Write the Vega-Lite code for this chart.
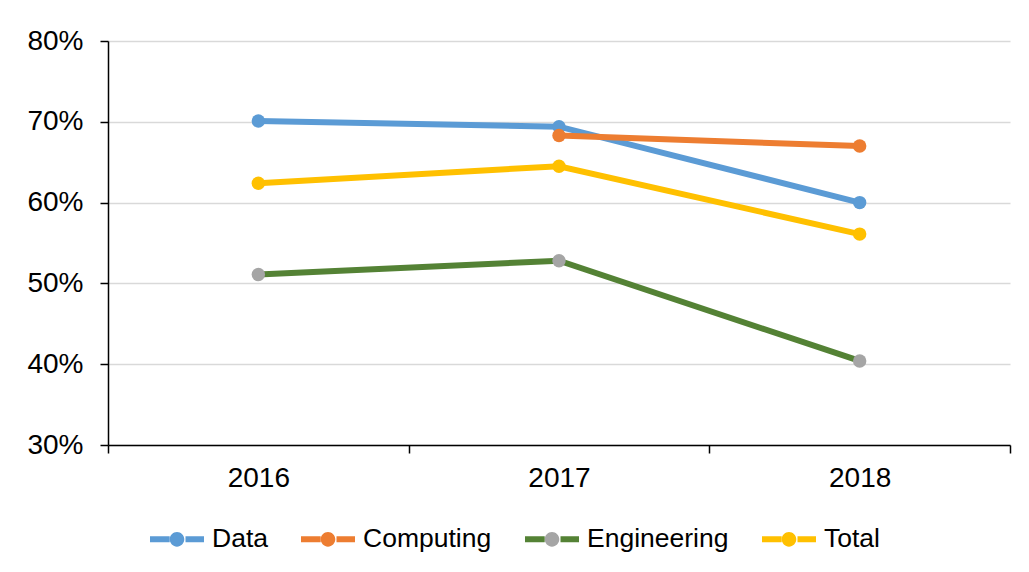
{
  "$schema": "https://vega.github.io/schema/vega-lite/v6.json",
  "width": 902,
  "height": 404,
  "autosize": {"type": "none"},
  "padding": {"left": 108, "top": 41, "right": 19, "bottom": 127},
  "background": "white",
  "config": {"view": {"stroke": null}, "font": "Liberation Sans"},
  "data": {
    "values": [
      {"year": "2016", "series": "Data", "value": 0.701},
      {"year": "2017", "series": "Data", "value": 0.694},
      {"year": "2018", "series": "Data", "value": 0.600},
      {"year": "2017", "series": "Computing", "value": 0.683},
      {"year": "2018", "series": "Computing", "value": 0.670},
      {"year": "2016", "series": "Engineering", "value": 0.511},
      {"year": "2017", "series": "Engineering", "value": 0.528},
      {"year": "2018", "series": "Engineering", "value": 0.404},
      {"year": "2016", "series": "Total", "value": 0.624},
      {"year": "2017", "series": "Total", "value": 0.645},
      {"year": "2018", "series": "Total", "value": 0.561}
    ]
  },
  "encoding": {
    "x": {
      "field": "year",
      "type": "ordinal",
      "bandPosition": 0.5,
      "scale": {"type": "band", "paddingInner": 0, "paddingOuter": 0},
      "axis": {
        "title": null,
        "labelAngle": 0,
        "tickBand": "extent",
        "tickSize": 8,
        "tickWidth": 1.5,
        "tickColor": "black",
        "domainColor": "black",
        "domainWidth": 1.5,
        "labelFontSize": 28,
        "labelColor": "black",
        "labelPadding": 11,
        "grid": false
      }
    },
    "y": {
      "field": "value",
      "type": "quantitative",
      "scale": {"domain": [0.3, 0.8], "nice": false},
      "axis": {
        "title": null,
        "values": [0.3, 0.4, 0.5, 0.6, 0.7, 0.8],
        "format": ".0%",
        "tickSize": 8,
        "tickWidth": 1.5,
        "tickColor": "black",
        "domainColor": "black",
        "domainWidth": 1.5,
        "labelFontSize": 28,
        "labelColor": "black",
        "labelPadding": 17,
        "gridColor": "#d9d9d9",
        "gridWidth": 1.3
      }
    }
  },
  "layer": [
    {
      "mark": {"type": "line", "strokeWidth": 6},
      "encoding": {
        "stroke": {
          "field": "series",
          "type": "nominal",
          "scale": {
            "domain": ["Data", "Computing", "Engineering", "Total"],
            "range": ["#5b9bd5", "#ed7d31", "#548235", "#ffc000"]
          },
          "legend": {
            "title": null,
            "orient": "none",
            "legendX": 39,
            "legendY": 468,
            "direction": "horizontal",
            "symbolType": "M-1,0L-0.27,0A0.27,0.27,0,0,1,0,-0.27A0.27,0.27,0,0,1,0.27,0A0.27,0.27,0,0,1,0,0.27A0.27,0.27,0,0,1,-0.27,0A0.27,0.27,0,0,1,0,-0.27A0.27,0.27,0,0,1,0.27,0L1,0",
            "symbolSize": 2916,
            "symbolStrokeWidth": 6,
            "symbolDash": [19.7, 69.5, 40],
            "symbolOpacity": 1,
            "labelFontSize": 26.5,
            "labelColor": "black",
            "labelLimit": 300,
            "labelOffset": 5,
            "columnPadding": 21,
            "encode": {
              "symbols": {
                "update": {
                  "fill": {"scale": "fill", "field": "value"},
                  "fillOpacity": {"value": 1},
                  "stroke": {"scale": "stroke", "field": "value"},
                  "opacity": {"value": 1}
                }
              }
            }
          }
        }
      }
    },
    {
      "mark": {"type": "point", "filled": true, "size": 180, "opacity": 1, "strokeWidth": 0},
      "encoding": {
        "fill": {
          "field": "series",
          "type": "nominal",
          "scale": {
            "domain": ["Data", "Computing", "Engineering", "Total"],
            "range": ["#5b9bd5", "#ed7d31", "#a5a5a5", "#ffc000"]
          },
          "legend": null
        }
      }
    }
  ]
}
